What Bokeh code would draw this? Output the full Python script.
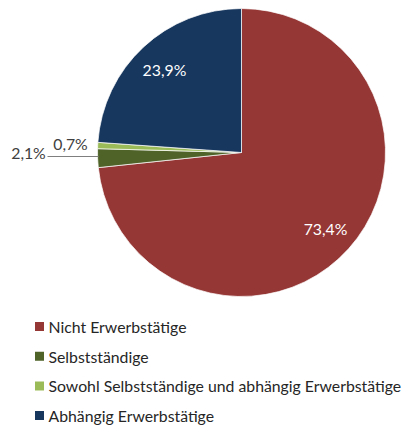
import math
from bokeh.plotting import figure
from bokeh.models import Range1d, ColumnDataSource
from bokeh.core.properties import value
from bokeh.embed import file_html
from bokeh.resources import INLINE

categories = ["Nicht Erwerbstätige", "Selbstständige",
              "Sowohl Selbstständige und abhängig Erwerbstätige", "Abhängig Erwerbstätige"]
shares = [73.4, 2.1, 0.7, 23.9]
share_labels = ["73,4%", "2,1%", "0,7%", "23,9%"]
colors = ["#953735", "#4F6228", "#9BBB59", "#17375E"]

W, H = 403, 430
FONT = "Lato"
FS = "15.8px"

def sy(y):  # window pixel y -> data y
    return H - y

def sx(x):
    return x

p = figure(width=W, height=H, output_backend="svg", toolbar_location=None,
           x_axis_type=None, y_axis_type=None, min_border=0,
           x_range=Range1d(0, W), y_range=Range1d(0, H))
p.outline_line_color = None
p.grid.visible = False
p.background_fill_color = "white"

cx, cy, r = sx(241), sy(152), 144
total = sum(shares)
starts, ends, mids = [], [], []
cum = 0.0
for s in shares:
    a0 = 90 - cum / total * 360
    cum += s
    a1 = 90 - cum / total * 360
    starts.append(a0); ends.append(a1); mids.append((a0 + a1) / 2)

src = ColumnDataSource(dict(start=starts, end=ends, color=colors))
p.wedge(x=cx, y=cy, radius=r, start_angle="start", end_angle="end",
        start_angle_units="deg", end_angle_units="deg", direction="clock",
        fill_color="color", line_color="white", line_width=0.7, source=src)

# inside labels for big slices
in_x, in_y, in_t = [], [], []
for i in (0, 3):
    a = math.radians(mids[i])
    in_x.append(cx + 0.785 * r * math.cos(a))
    in_y.append(cy + 0.785 * r * math.sin(a))
    in_t.append(share_labels[i])
p.text(x=in_x, y=in_y, text=in_t, text_color="white", text_font=value(FONT),
       text_font_size=FS, text_align="center", text_baseline="middle")

# outside labels for small slices with leader line
p.segment(x0=[sx(47)], y0=[sy(156)], x1=[sx(98)], y1=[sy(156)], line_color="#7f7f7f", line_width=1)
p.text(x=[sx(28)], y=[sy(152)], text=[share_labels[1]], text_color="#404040",
       text_font=value(FONT), text_font_size=FS, text_align="center", text_baseline="middle")
p.text(x=[sx(70)], y=[sy(143)], text=[share_labels[2]], text_color="#404040",
       text_font=value(FONT), text_font_size=FS, text_align="center", text_baseline="middle")

# legend
ly = [sy(326 + 29.7 * i) for i in range(len(categories))]
p.rect(x=[sx(39)] * len(categories), y=ly, width=9, height=9, fill_color=colors, line_color=None)
p.text(x=[sx(48)] * len(categories), y=ly, text=categories, text_color="#262626",
       text_font=value(FONT), text_font_size=FS, text_align="left", text_baseline="middle")

open("out.html", "w").write(file_html(p, INLINE))
